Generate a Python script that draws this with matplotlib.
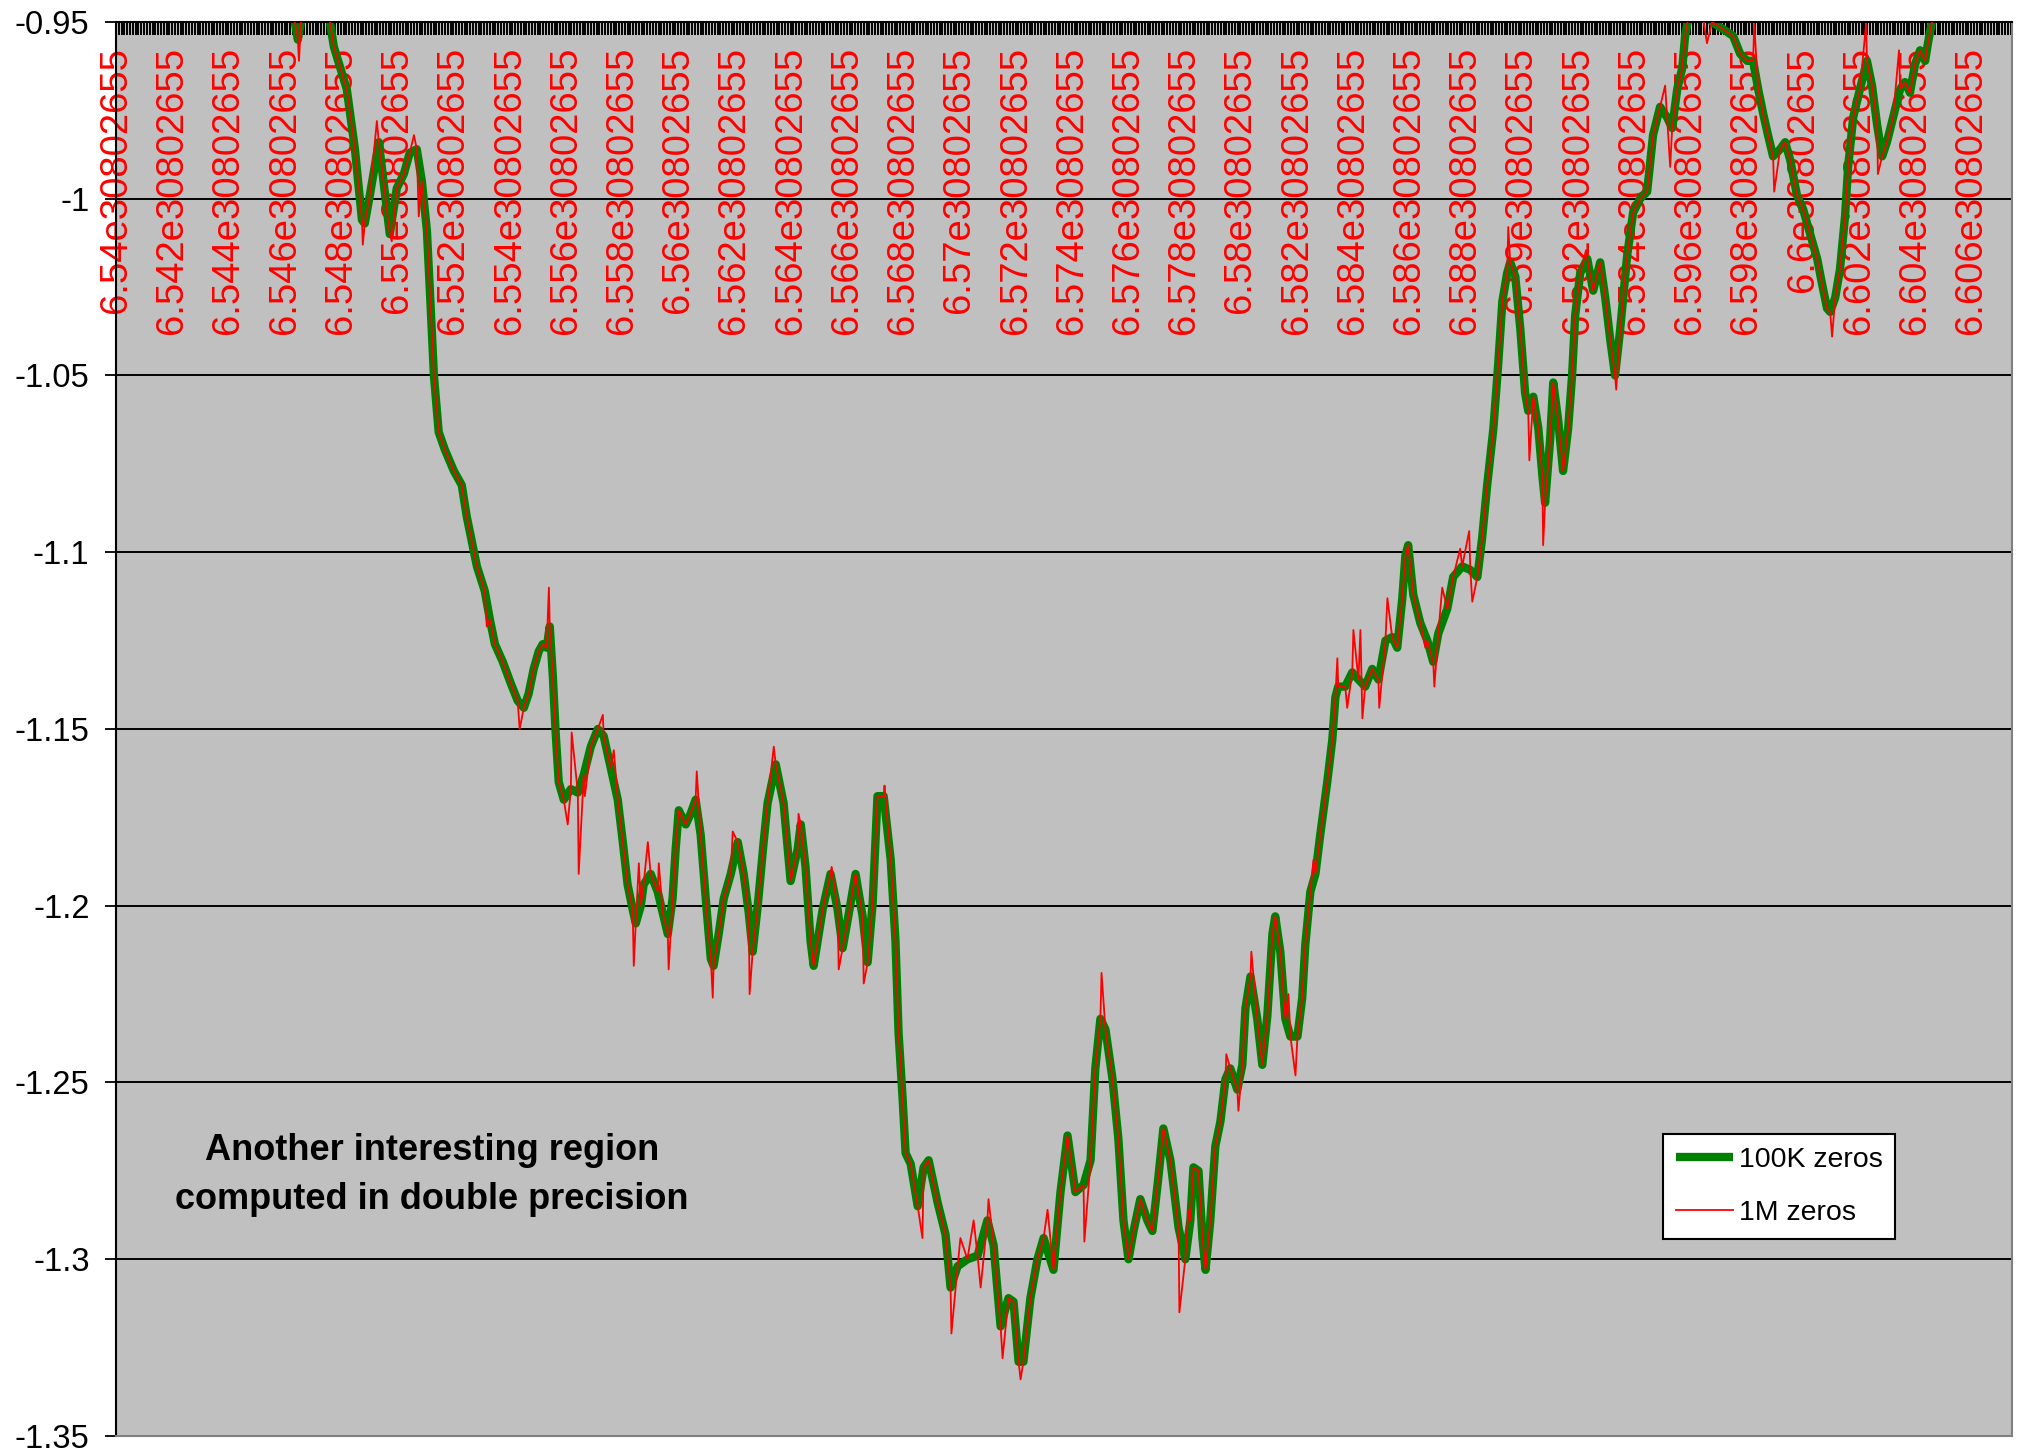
import numpy as np
import matplotlib
matplotlib.use("Agg")
import matplotlib.pyplot as plt
from matplotlib.ticker import MultipleLocator

plt.rcParams['font.family'] = ['Liberation Sans', 'DejaVu Sans']

# Abscissa values are mantissas m of m * 10**30802655
x_100k = [
    6.54615, 6.54636, 6.54647, 6.54658, 6.54711, 6.54761, 6.54775, 6.54821, 6.54850, 6.54875,
    6.54885, 6.54903, 6.54935, 6.54956, 6.54974, 6.54999, 6.55024, 6.55045, 6.55070, 6.55088,
    6.55106, 6.55116, 6.55131, 6.55148, 6.55170, 6.55202, 6.55230, 6.55248, 6.55266, 6.55284,
    6.55312, 6.55330, 6.55348, 6.55376, 6.55404, 6.55429, 6.55451, 6.55468, 6.55486, 6.55504,
    6.55518, 6.55532, 6.55543, 6.55554, 6.55564, 6.55575, 6.55593, 6.55618, 6.55643, 6.55664,
    6.55689, 6.55714, 6.55735, 6.55760, 6.55785, 6.55803, 6.55820, 6.55838, 6.55849, 6.55867,
    6.55877, 6.55902, 6.55927, 6.55945, 6.55963, 6.55980, 6.55991, 6.56002, 6.56027, 6.56044,
    6.56062, 6.56080, 6.56098, 6.56116, 6.56126, 6.56144, 6.56162, 6.56187, 6.56212, 6.56233,
    6.56251, 6.56265, 6.56283, 6.56304, 6.56318, 6.56347, 6.56375, 6.56400, 6.56425, 6.56436,
    6.56453, 6.56471, 6.56482, 6.56514, 6.56542, 6.56567, 6.56585, 6.56603, 6.56631, 6.56656,
    6.56674, 6.56692, 6.56709, 6.56731, 6.56756, 6.56773, 6.56784, 6.56798, 6.56809, 6.56827,
    6.56852, 6.56873, 6.56891, 6.56923, 6.56951, 6.56969, 6.56994, 6.57029, 6.57065, 6.57100,
    6.57122, 6.57147, 6.57175, 6.57193, 6.57211, 6.57228, 6.57253, 6.57278, 6.57300, 6.57335,
    6.57360, 6.57385, 6.57413, 6.57442, 6.57467, 6.57484, 6.57502, 6.57520, 6.57545, 6.57566,
    6.57584, 6.57602, 6.57620, 6.57644, 6.57669, 6.57687, 6.57708, 6.57726, 6.57751, 6.57780,
    6.57804, 6.57822, 6.57833, 6.57851, 6.57865, 6.57876, 6.57893, 6.57911, 6.57929, 6.57947,
    6.57964, 6.57989, 6.58007, 6.58018, 6.58036, 6.58060, 6.58078, 6.58096, 6.58114, 6.58124,
    6.58142, 6.58160, 6.58178, 6.58203, 6.58220, 6.58231, 6.58249, 6.58267, 6.58284, 6.58309,
    6.58327, 6.58338, 6.58348, 6.58373, 6.58398, 6.58420, 6.58444, 6.58469, 6.58491, 6.58516,
    6.58540, 6.58558, 6.58576, 6.58587, 6.58597, 6.58615, 6.58640, 6.58665, 6.58686, 6.58704,
    6.58736, 6.58757, 6.58789, 6.58818, 6.58843, 6.58860, 6.58878, 6.58900, 6.58917, 6.58932,
    6.58949, 6.58960, 6.58978, 6.58996, 6.59013, 6.59024, 6.59042, 6.59060, 6.59074, 6.59084,
    6.59102, 6.59113, 6.59131, 6.59148, 6.59166, 6.59180, 6.59191, 6.59209, 6.59234, 6.59255,
    6.59280, 6.59298, 6.59316, 6.59333, 6.59351, 6.59376, 6.59397, 6.59422, 6.59447, 6.59468,
    6.59493, 6.59518, 6.59536, 6.59554, 6.59572, 6.59582, 6.59593, 6.59636, 6.59678, 6.59717,
    6.59753, 6.59778, 6.59803, 6.59824, 6.59842, 6.59860, 6.59877, 6.59895, 6.59920, 6.59938,
    6.59956, 6.59980, 6.60002, 6.60027, 6.60052, 6.60069, 6.60087, 6.60098, 6.60116, 6.60133,
    6.60151, 6.60162, 6.60180, 6.60204, 6.60229, 6.60247, 6.60265, 6.60283, 6.60300, 6.60322,
    6.60347, 6.60364, 6.60382, 6.60400, 6.60418, 6.60436, 6.60446, 6.60460, 6.60475,
]
y_100k = [
    -0.944, -0.950, -0.955, -0.950, -0.942, -0.950, -0.957, -0.969, -0.986, -1.006,
    -1.007, -0.999, -0.984, -0.998, -1.010, -0.997, -0.993, -0.987, -0.986, -0.995,
    -1.009, -1.025, -1.050, -1.066, -1.071, -1.077, -1.081, -1.090, -1.097, -1.104,
    -1.111, -1.119, -1.126, -1.131, -1.137, -1.142, -1.144, -1.140, -1.133, -1.128,
    -1.126, -1.127, -1.121, -1.135, -1.151, -1.165, -1.170, -1.167, -1.168, -1.163,
    -1.155, -1.150, -1.152, -1.161, -1.170, -1.182, -1.194, -1.201, -1.205, -1.200,
    -1.194, -1.191, -1.196, -1.202, -1.208, -1.198, -1.184, -1.173, -1.177, -1.174,
    -1.170, -1.180, -1.198, -1.215, -1.217, -1.208, -1.198, -1.191, -1.182, -1.191,
    -1.202, -1.213, -1.200, -1.182, -1.171, -1.160, -1.171, -1.193, -1.184, -1.177,
    -1.189, -1.210, -1.217, -1.201, -1.191, -1.201, -1.212, -1.204, -1.191, -1.203,
    -1.216, -1.199, -1.169, -1.169, -1.187, -1.210, -1.236, -1.254, -1.270, -1.273,
    -1.285, -1.274, -1.272, -1.284, -1.293, -1.308, -1.302, -1.300, -1.299, -1.289,
    -1.296, -1.319, -1.311, -1.312, -1.329, -1.329, -1.311, -1.300, -1.294, -1.303,
    -1.281, -1.265, -1.281, -1.279, -1.272, -1.246, -1.232, -1.235, -1.249, -1.266,
    -1.289, -1.300, -1.292, -1.283, -1.289, -1.292, -1.277, -1.263, -1.272, -1.291,
    -1.300, -1.289, -1.274, -1.275, -1.294, -1.303, -1.289, -1.268, -1.261, -1.249,
    -1.246, -1.252, -1.245, -1.229, -1.220, -1.232, -1.245, -1.231, -1.208, -1.203,
    -1.213, -1.232, -1.237, -1.237, -1.226, -1.211, -1.196, -1.191, -1.180, -1.165,
    -1.153, -1.141, -1.138, -1.138, -1.134, -1.136, -1.138, -1.133, -1.136, -1.125,
    -1.124, -1.127, -1.113, -1.101, -1.098, -1.112, -1.120, -1.125, -1.131, -1.123,
    -1.116, -1.107, -1.104, -1.105, -1.107, -1.096, -1.081, -1.065, -1.047, -1.029,
    -1.021, -1.018, -1.022, -1.037, -1.055, -1.060, -1.056, -1.065, -1.078, -1.086,
    -1.068, -1.052, -1.063, -1.077, -1.065, -1.050, -1.033, -1.021, -1.017, -1.026,
    -1.018, -1.028, -1.040, -1.050, -1.037, -1.016, -1.004, -1.000, -0.998, -0.982,
    -0.974, -0.977, -0.980, -0.969, -0.963, -0.954, -0.949, -0.944, -0.950, -0.952,
    -0.954, -0.959, -0.961, -0.961, -0.969, -0.976, -0.982, -0.988, -0.986, -0.984,
    -0.989, -0.999, -1.003, -1.010, -1.017, -1.024, -1.031, -1.032, -1.028, -1.020,
    -1.005, -0.991, -0.977, -0.969, -0.961, -0.968, -0.979, -0.988, -0.984, -0.977,
    -0.969, -0.967, -0.970, -0.962, -0.958, -0.961, -0.956, -0.950, -0.945,
]

# Extra excursions resolved only by the 1M-zero computation
x_1m_only = [
    6.54651, 6.54878, 6.54928, 6.54981, 6.55060, 6.55077, 6.55319, 6.55436, 6.55540, 6.55607,
    6.55621, 6.55646, 6.55668, 6.55732, 6.55771, 6.55842, 6.55860, 6.55892, 6.55931, 6.55966,
    6.56066, 6.56123, 6.56194, 6.56254, 6.56340, 6.56428, 6.56546, 6.56571, 6.56660, 6.56734,
    6.56869, 6.56972, 6.57004, 6.57051, 6.57076, 6.57104, 6.57154, 6.57218, 6.57314, 6.57445,
    6.57506, 6.57783, 6.57815, 6.57950, 6.57993, 6.58039, 6.58171, 6.58196, 6.58260, 6.58345,
    6.58380, 6.58402, 6.58427, 6.58434, 6.58494, 6.58523, 6.58658, 6.58690, 6.58718, 6.58782,
    6.58814, 6.58825, 6.58953, 6.59028, 6.59077, 6.59230, 6.59337, 6.59511, 6.59529, 6.59660,
    6.59828, 6.59899, 6.60105, 6.60226, 6.60268, 6.60343,
]
y_1m_only = [
    -0.961, -1.013, -0.978, -1.012, -0.982, -1.005, -1.121, -1.150, -1.110, -1.177,
    -1.151, -1.191, -1.169, -1.146, -1.156, -1.217, -1.188, -1.182, -1.188, -1.218,
    -1.162, -1.226, -1.179, -1.225, -1.155, -1.174, -1.189, -1.218, -1.222, -1.166,
    -1.294, -1.321, -1.294, -1.289, -1.308, -1.283, -1.328, -1.334, -1.286, -1.295,
    -1.219, -1.315, -1.286, -1.242, -1.258, -1.213, -1.225, -1.248, -1.187, -1.130,
    -1.144, -1.122, -1.122, -1.147, -1.144, -1.113, -1.127, -1.138, -1.110, -1.099,
    -1.094, -1.114, -1.008, -1.074, -1.098, -1.0145, -1.054, -0.968, -0.991, -0.956,
    -0.9505, -0.998, -1.039, -0.9505, -0.993, -0.958,
]

x_tick_values = [
    6.540, 6.542, 6.544, 6.546, 6.548, 6.550, 6.552, 6.554, 6.556, 6.558, 6.560, 6.562,
    6.564, 6.566, 6.568, 6.570, 6.572, 6.574, 6.576, 6.578, 6.580, 6.582, 6.584, 6.586,
    6.588, 6.590, 6.592, 6.594, 6.596, 6.598, 6.600, 6.602, 6.604, 6.606,
]
x_tick_labels = [
    "6.54e30802655", "6.542e30802655", "6.544e30802655", "6.546e30802655",
    "6.548e30802655", "6.55e30802655", "6.552e30802655", "6.554e30802655",
    "6.556e30802655", "6.558e30802655", "6.56e30802655", "6.562e30802655",
    "6.564e30802655", "6.566e30802655", "6.568e30802655", "6.57e30802655",
    "6.572e30802655", "6.574e30802655", "6.576e30802655", "6.578e30802655",
    "6.58e30802655", "6.582e30802655", "6.584e30802655", "6.586e30802655",
    "6.588e30802655", "6.59e30802655", "6.592e30802655", "6.594e30802655",
    "6.596e30802655", "6.598e30802655", "6.6e30802655", "6.602e30802655",
    "6.604e30802655", "6.606e30802655",
]
y_tick_values = [-1.35, -1.3, -1.25, -1.2, -1.15, -1.1, -1.05, -1.0, -0.95]
y_tick_labels = ["-1.35", "-1.3", "-1.25", "-1.2", "-1.15", "-1.1", "-1.05", "-1", "-0.95"]

# The 1M-zero curve follows the common trace plus its own excursions
x_1m = np.concatenate([x_100k, x_1m_only])
y_1m = np.concatenate([y_100k, y_1m_only])
order = np.argsort(x_1m, kind="stable")
x_1m, y_1m = x_1m[order], y_1m[order]

W, H = 2018, 1453
fig = plt.figure(figsize=(W / 100, H / 100), dpi=100)
fig.patch.set_facecolor("white")
ax = fig.add_axes([116 / W, 1 - 1436 / H, (2012 - 116) / W, (1436 - 22) / H])
ax.set_facecolor("#C0C0C0")

ax.plot(x_100k, y_100k, color="#008000", lw=6.0, solid_joinstyle="round",
        solid_capstyle="butt", label="100K zeros", zorder=2)
ax.plot(x_1m, y_1m, color="#FF0000", lw=1.3, label="1M zeros", zorder=3)

ax.set_xlim(6.54, 6.60745)
ax.set_ylim(-1.35, -0.95)

# Category-style axis along the top, labels hanging inside the plot
ax.xaxis.tick_top()
ax.set_xticks(x_tick_values, x_tick_labels)
ax.xaxis.set_minor_locator(MultipleLocator(0.0001))
ax.tick_params(axis="x", which="both", direction="in", length=9, width=1.4,
               color="black", top=True, bottom=False, labeltop=True,
               labelbottom=False)
ax.tick_params(axis="x", which="major", pad=-18, labelsize=27.5,
               labelcolor="#FF0000", labelrotation=90)
for lab in ax.get_xticklabels():
    lab.set_verticalalignment("top")

ax.set_yticks(y_tick_values, y_tick_labels)
ax.tick_params(axis="y", which="major", direction="out", length=8, width=1.3,
               color="black", labelsize=23.5, pad=11, labelcolor="black")
ax.yaxis.grid(True, color="black", lw=1.4)
ax.xaxis.grid(False)

for side in ("top", "left"):
    ax.spines[side].set_color("black")
    ax.spines[side].set_linewidth(1.5)
for side in ("right", "bottom"):
    ax.spines[side].set_color("#808080")
    ax.spines[side].set_linewidth(1.5)

ax.text(0.1667, 0.1846, "Another interesting region\ncomputed in double precision",
        transform=ax.transAxes, ha="center", va="center", fontsize=26,
        fontweight="bold", linespacing=1.55, color="black")

leg = ax.legend(loc="upper left", bbox_to_anchor=(0.816, 0.2136), frameon=True,
                fancybox=False, edgecolor="black", facecolor="white", framealpha=1,
                fontsize=20.5, borderaxespad=0, handlelength=2.0, borderpad=0.45,
                labelspacing=0.95, handletextpad=0.2)
leg.get_frame().set_linewidth(1.5)

fig.savefig("out.png", dpi=100, facecolor="white")
